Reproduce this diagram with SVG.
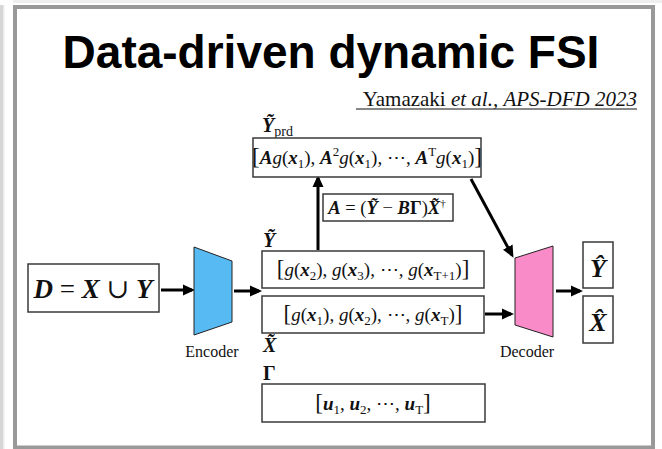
<svg xmlns="http://www.w3.org/2000/svg" width="662" height="449" viewBox="0 0 662 449">
  <style>
    .box { fill: #fff; stroke: #3a3a3a; stroke-width: 1.5; }
    .m { font-family: "Liberation Serif", "DejaVu Serif", serif; font-size: 19px; fill: #111; }
    .bi { font-weight: bold; font-style: italic; }
    .b { font-weight: bold; }
    .it { font-style: italic; }
    .s { font-size: 13px; }
    .br { font-size: 23px; }
    .lbl { font-family: "Liberation Serif", "DejaVu Serif", serif; font-size: 16px; fill: #111; }
    .title { font-family: "Liberation Sans", Arial, sans-serif; font-weight: bold; font-size: 46px; fill: #000; }
    .cite { font-family: "Liberation Serif", "Times New Roman", serif; font-size: 21px; fill: #111; }
    .arrow { stroke: #000; stroke-width: 3; fill: none; marker-end: url(#head); }
  </style>
  <defs>
    <marker id="head" markerUnits="userSpaceOnUse" markerWidth="12" markerHeight="12" viewBox="0 0 12 12" refX="9" refY="6" orient="auto">
      <path d="M0,0.5 L12,6 L0,11.5 z" fill="#000"/>
    </marker>
  </defs>

  <!-- page background and frame -->
  <rect x="0" y="0" width="662" height="449" fill="#fff"/>
  <rect x="0" y="5" width="3" height="444" fill="#d6d6d6"/>
  <rect x="3" y="5" width="1.5" height="444" fill="#ebebeb"/>
  <rect x="13" y="0" width="649" height="3" fill="#efefef"/>
  <rect x="15" y="7" width="638" height="440.5" fill="#fff" stroke="#999" stroke-width="4"/>

  <!-- heading -->
  <text class="title" x="331" y="68" text-anchor="middle">Data-driven dynamic FSI</text>
  <text class="cite" x="637" y="106" text-anchor="end">Yamazaki <tspan class="it">et al.,</tspan> <tspan class="it">APS-DFD 2023</tspan></text>
  <line x1="356" y1="109" x2="637" y2="109" stroke="#111" stroke-width="1"/>

  <!-- connectors -->
  <g id="connectors">
    <line class="arrow" x1="161" y1="290" x2="192" y2="290"/>
    <line class="arrow" x1="234" y1="291" x2="259" y2="291"/>
    <line class="arrow" x1="485" y1="314" x2="511" y2="314"/>
    <line class="arrow" x1="556" y1="291" x2="580" y2="291"/>
    <line class="arrow" x1="318" y1="250" x2="318" y2="178"/>
    <line class="arrow" x1="471" y1="179" x2="512" y2="255"/>
  </g>

  <!-- input data -->
  <g id="input">
    <rect class="box" x="28" y="264" width="131" height="48"/>
    <text class="m" x="93" y="298" text-anchor="middle" style="font-size:27px"><tspan class="bi">D</tspan> = <tspan class="bi">X</tspan> ∪ <tspan class="bi">Y</tspan></text>
  </g>

  <!-- encoder -->
  <g id="encoder">
    <polygon points="194,247 232,261 232,322 194,335" fill="#58baf2" stroke="#222" stroke-width="1"/>
    <text class="lbl" x="212" y="357" text-anchor="middle">Encoder</text>
  </g>

  <!-- predicted sequence -->
  <g id="y-prd">
    <text class="m" x="262" y="132"><tspan class="bi" style="font-size:20px">Ỹ</tspan><tspan dy="4" style="font-size:14px">prd</tspan></text>
    <rect class="box" x="253" y="138" width="228" height="39"/>
    <text class="m" x="367" y="164" text-anchor="middle"><tspan class="br">[</tspan><tspan class="bi">A</tspan><tspan class="it">g</tspan>(<tspan class="bi">x</tspan><tspan class="s" dy="4">1</tspan><tspan dy="-4">), </tspan><tspan class="bi">A</tspan><tspan class="s" dy="-8">2</tspan><tspan class="it" dy="8">g</tspan>(<tspan class="bi">x</tspan><tspan class="s" dy="4">1</tspan><tspan dy="-4">), ⋯, </tspan><tspan class="bi">A</tspan><tspan class="s" dy="-8">T</tspan><tspan class="it" dy="8">g</tspan>(<tspan class="bi">x</tspan><tspan class="s" dy="4">1</tspan><tspan dy="-4">)</tspan><tspan class="br">]</tspan></text>
  </g>

  <!-- operator -->
  <g id="operator">
    <rect class="box" x="323" y="194" width="130" height="27"/>
    <text class="m" x="387" y="214" text-anchor="middle" style="font-size:18.5px"><tspan class="bi">A</tspan> = (<tspan class="bi">Ỹ</tspan> − <tspan class="bi">B</tspan><tspan class="b">Γ</tspan>)<tspan class="bi">X̃</tspan><tspan dy="-7" style="font-size:11px">†</tspan></text>
  </g>

  <!-- shifted sequence -->
  <g id="y-tilde">
    <text class="m" x="263" y="247"><tspan class="bi" style="font-size:20px">Ỹ</tspan></text>
    <rect class="box" x="262" y="251" width="222" height="37"/>
    <text class="m" x="373" y="276" text-anchor="middle"><tspan class="br">[</tspan><tspan class="it">g</tspan>(<tspan class="bi">x</tspan><tspan class="s" dy="4">2</tspan><tspan dy="-4">), </tspan><tspan class="it">g</tspan>(<tspan class="bi">x</tspan><tspan class="s" dy="4">3</tspan><tspan dy="-4">), ⋯, </tspan><tspan class="it">g</tspan>(<tspan class="bi">x</tspan><tspan class="s" dy="4">T+1</tspan><tspan dy="-4">)</tspan><tspan class="br">]</tspan></text>
  </g>

  <!-- base sequence -->
  <g id="x-tilde">
    <rect class="box" x="262" y="296" width="222" height="37"/>
    <text class="m" x="373" y="321" text-anchor="middle"><tspan class="br">[</tspan><tspan class="it">g</tspan>(<tspan class="bi">x</tspan><tspan class="s" dy="4">1</tspan><tspan dy="-4">), </tspan><tspan class="it">g</tspan>(<tspan class="bi">x</tspan><tspan class="s" dy="4">2</tspan><tspan dy="-4">), ⋯, </tspan><tspan class="it">g</tspan>(<tspan class="bi">x</tspan><tspan class="s" dy="4">T</tspan><tspan dy="-4">)</tspan><tspan class="br">]</tspan></text>
    <text class="m" x="263" y="352"><tspan class="bi" style="font-size:20px">X̃</tspan></text>
  </g>

  <!-- inputs sequence -->
  <g id="gamma">
    <text class="m" x="263" y="380"><tspan class="b" style="font-size:20px">Γ</tspan></text>
    <rect class="box" x="262" y="384" width="223" height="38"/>
    <text class="m" x="373" y="410" text-anchor="middle"><tspan class="br">[</tspan><tspan class="bi">u</tspan><tspan class="s" dy="4">1</tspan><tspan dy="-4">, </tspan><tspan class="bi">u</tspan><tspan class="s" dy="4">2</tspan><tspan dy="-4">, ⋯, </tspan><tspan class="bi">u</tspan><tspan class="s" dy="4">T</tspan><tspan class="br" dy="-4">]</tspan></text>
  </g>

  <!-- decoder -->
  <g id="decoder">
    <polygon points="515,258 553,246 553,337 515,325" fill="#f98bc8" stroke="#222" stroke-width="1"/>
    <text class="lbl" x="527" y="357" text-anchor="middle">Decoder</text>
  </g>

  <!-- outputs -->
  <g id="y-hat">
    <rect class="box" x="583" y="242" width="30" height="46"/>
    <text class="m" x="598" y="277" text-anchor="middle" style="font-size:26px"><tspan class="bi">Ŷ</tspan></text>
  </g>
  <g id="x-hat">
    <rect class="box" x="583" y="296" width="30" height="47"/>
    <text class="m" x="598" y="331" text-anchor="middle" style="font-size:26px"><tspan class="bi">X̂</tspan></text>
  </g>
</svg>
